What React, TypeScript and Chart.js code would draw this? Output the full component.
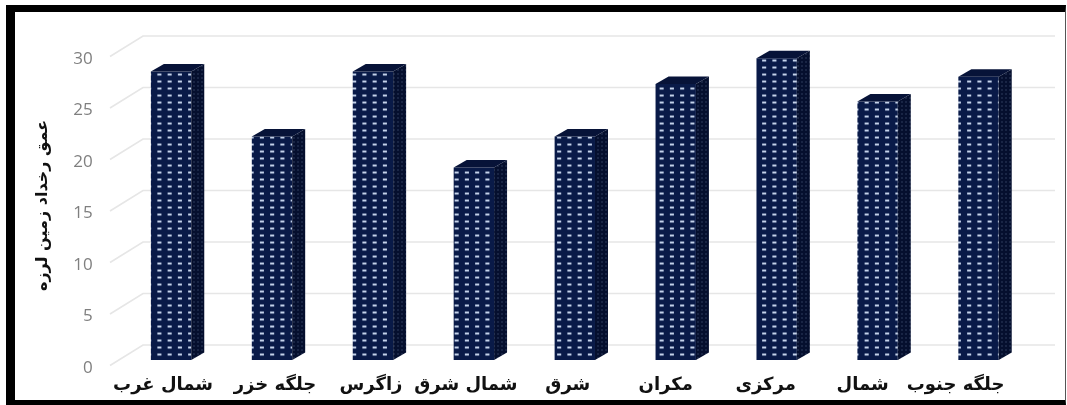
import React, { useEffect, useRef } from "react";
import { Chart, registerables } from "chart.js";

Chart.register(...registerables);

const categories = ["شمال غرب", "جلگه خزر", "زاگرس", "شمال شرق", "شرق", "مکران", "مرکزی", "شمال", "جلگه جنوب"];
const depths = [28, 21.7, 28, 18.7, 21.7, 26.8, 29.3, 25.1, 27.5];
const yTitle = "عمق رخداد زمین لرزه";

const DX = 13;
const DY = -7.5;
const labelNudge = [2, 13, 8, 2, 3, 0, -1, -5, -13];

function dotPattern(w: number, h: number, bg: string, dot: string, dw: number, dh: number, ox: number, oy: number, sx: number) {
  const c = document.createElement("canvas");
  c.width = w;
  c.height = h;
  const g = c.getContext("2d")!;
  g.fillStyle = bg;
  g.fillRect(0, 0, w, h);
  g.fillStyle = dot;
  g.fillRect((w - dw) / 2, (h - dh) / 2, dw, dh);
  const p = g.createPattern(c, "repeat")!;
  p.setTransform(new DOMMatrix([sx, 0, 0, 1, ox, oy]));
  return p;
}

const wallPlugin = {
  id: "wall",
  beforeDatasetsDraw(chart: any) {
    const { ctx, scales } = chart;
    const y = scales.y;
    ctx.save();
    ctx.strokeStyle = "#e6e6e6";
    ctx.lineWidth = 1.6;
    y.ticks.forEach((t: any) => {
      const p = y.getPixelForValue(t.value);
      ctx.beginPath();
      ctx.moveTo(110, p + 5.5);
      ctx.lineTo(143, p - 15);
      ctx.lineTo(1055, p - 15);
      ctx.stroke();
    });
    ctx.restore();
  },
};

const sidePlugin = {
  id: "side",
  afterDatasetsDraw(chart: any) {
    const { ctx } = chart;
    const side = dotPattern(4, 4, "#050f2e", "#2a3858", 1.5, 1.5, 0, 0, 1);
    const top = "#071338";
    chart.getDatasetMeta(0).data.forEach((b: any) => {
      const p = b.getProps(["x", "y", "base", "width"], true);
      const l = p.x - p.width / 2;
      const r = p.x + p.width / 2;
      ctx.save();
      ctx.fillStyle = side;
      ctx.beginPath();
      ctx.moveTo(r, p.base);
      ctx.lineTo(r + DX, p.base + DY);
      ctx.lineTo(r + DX, p.y + DY);
      ctx.lineTo(r, p.y);
      ctx.closePath();
      ctx.fill();
      ctx.fillStyle = top;
      ctx.beginPath();
      ctx.moveTo(l, p.y);
      ctx.lineTo(l + DX, p.y + DY);
      ctx.lineTo(r + DX, p.y + DY);
      ctx.lineTo(r, p.y);
      ctx.closePath();
      ctx.fill();
      ctx.restore();
    });
  },
};

export default function App() {
  const ref = useRef<HTMLCanvasElement>(null);
  useEffect(() => {
    const front = dotPattern(10, 7, "#091a48", "#c4d2ea", 4, 2, 0.5, 1, 1.025);
    const chart = new Chart(ref.current!, {
      type: "bar",
      data: {
        labels: categories,
        datasets: [
          {
            data: depths,
            backgroundColor: front,
            borderWidth: 0,
            barPercentage: 0.4,
            categoryPercentage: 1,
          },
        ],
      },
      plugins: [wallPlugin, sidePlugin],
      options: {
        animation: false,
        responsive: false,
        layout: { padding: { top: 51, right: 38, left: 0, bottom: 0 } },
        plugins: { legend: { display: false }, tooltip: { enabled: false } },
        scales: {
          x: {
            grid: { display: false },
            border: { display: false },
            afterFit(s: any) {
              s.height = 45;
              if (!s._nudged) {
                s._nudged = true;
                const compute = s._computeLabelItems.bind(s);
                s._computeLabelItems = (area: any) => {
                  const items = compute(area);
                  items.forEach((it: any, i: number) => {
                    it.options.translation = [it.options.translation[0] + labelNudge[i], it.options.translation[1]];
                  });
                  return items;
                };
              }
            },
            ticks: {
              padding: 7,
              labelOffset: -10,
              maxRotation: 0,
              autoSkip: false,
              color: "#111111",
              font: { family: "DejaVu Sans", size: 18, weight: "bold" },
            },
          },
          y: {
            min: 0,
            max: 30,
            grid: { display: false },
            border: { display: false },
            afterFit(s: any) {
              s.width = 120.6;
            },
            title: {
              display: true,
              text: yTitle,
              color: "#111111",
              padding: { top: 33, bottom: 0 },
              font: { family: "DejaVu Sans", size: 16, weight: "bold" },
            },
            ticks: {
              stepSize: 5,
              padding: 20,
              labelOffset: 8,
              color: "#7f7f7f",
              font: { family: "Open Sans", size: 17 },
            },
          },
        },
      },
    } as any);
    return () => chart.destroy();
  }, []);
  return (
    <div style={{ position: "absolute", left: 0, top: 0, width: 1067, height: 405, background: "#fff", overflow: "hidden" }}>
      <canvas ref={ref} width={1067} height={405} style={{ display: "block", width: 1067, height: 405, filter: "blur(0.4px)" }} />
      <div
        style={{
          position: "absolute",
          left: 6,
          top: 5,
          width: 1060,
          height: 400,
          boxSizing: "border-box",
          borderTop: "7px solid #000",
          borderLeft: "9px solid #000",
          borderBottom: "5px solid #000",
          borderRight: "1px solid #555",
        }}
      />
    </div>
  );
}
